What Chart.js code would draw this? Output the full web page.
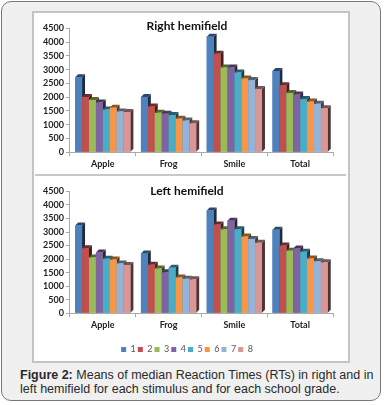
<!DOCTYPE html>
<html>
<head>
<meta charset="utf-8">
<script src="https://cdn.jsdelivr.net/npm/chart.js@4.4.1/dist/chart.umd.min.js"></script>
<style>
  body { margin: 0; background: #fff; }
  #frame { position: absolute; left: 1px; top: 1px; width: 380px; height: 400px; box-sizing: border-box;
           border: 1.5px solid #777; border-radius: 10px; background: #f0f0f0; }
  #panel { position: absolute; left: 32px; top: 11px; width: 318px; height: 352px; box-sizing: border-box;
           border: 2px solid #c4c4c4; background: #fff; }
  #divider { position: absolute; left: 35px; top: 174px; width: 311px; height: 2px; background: #c8c8c8; }
  .box { position: absolute; left: 33px; width: 316px; }
  #top { top: 12px; height: 160px; }
  #bottom { top: 177px; height: 183px; }
  #caption { position: absolute; left: 20px; top: 368px; font: 12.5px "Liberation Sans", Arial, sans-serif;
             color: #2a2a2a; line-height: 14px; white-space: nowrap; }
</style>
</head>
<body>
<div id="frame"></div>
<div id="panel"></div>
<div id="divider"></div>
<div class="box" id="top"><canvas id="rightChart"></canvas></div>
<div class="box" id="bottom"><canvas id="leftChart"></canvas></div>
<div id="caption"><b>Figure 2:</b> Means of median Reaction Times (RTs) in right and in<br>left hemifield for each stimulus and for each school grade.</div>
<script>
const stimuli = ['Apple', 'Frog', 'Smile', 'Total'];
const grades = ['1', '2', '3', '4', '5', '6', '7', '8'];
const colors = ['#4F81BD', '#C0504D', '#9BBB59', '#8064A2', '#4BACC6', '#F79646', '#95B3D7', '#D99694'];

// right hemifield, one array per grade: Apple, Frog, Smile, Total
const right1 = [2720, 2010, 4200, 2950];
const right2 = [2010, 1660, 3580, 2430];
const right3 = [1900, 1430, 3080, 2150];
const right4 = [1810, 1400, 3080, 2100];
const right5 = [1550, 1350, 2900, 1930];
const right6 = [1620, 1220, 2680, 1840];
const right7 = [1480, 1150, 2620, 1760];
const right8 = [1460, 1050, 2300, 1600];

// left hemifield
const left1 = [3240, 2210, 3790, 3080];
const left2 = [2400, 1790, 3280, 2500];
const left3 = [2060, 1650, 3100, 2310];
const left4 = [2240, 1510, 3420, 2390];
const left5 = [2010, 1680, 3100, 2270];
const left6 = [1980, 1320, 2830, 2020];
const left7 = [1840, 1270, 2740, 1920];
const left8 = [1780, 1250, 2600, 1880];

const yMax = 4500;
const yStep = 500;

function shade(hex, f) {
    const n = parseInt(hex.slice(1), 16);
    const r = Math.round(((n >> 16) & 255) * f);
    const g = Math.round(((n >> 8) & 255) * f);
    const b = Math.round((n & 255) * f);
    return 'rgb(' + r + ',' + g + ',' + b + ')';
}

// fake the excel 3d look: side + top face, then the front again
const bars3d = {
    id: 'bars3d',
    afterDatasetsDraw(chart) {
        const ctx = chart.ctx;
        const d = 3;
        chart.data.datasets.forEach((ds, i) => {
            const meta = chart.getDatasetMeta(i);
            if (meta.hidden) return;
            meta.data.forEach(bar => {
                const p = bar.getProps(['x', 'y', 'base', 'width'], true);
                const l = p.x - p.width / 2, r = p.x + p.width / 2;
                ctx.save();
                ctx.fillStyle = shade(ds.backgroundColor, 0.35);
                ctx.beginPath();
                ctx.moveTo(r, p.y); ctx.lineTo(r + d, p.y - d); ctx.lineTo(r + d, p.base - d); ctx.lineTo(r, p.base);
                ctx.closePath(); ctx.fill();
                ctx.fillStyle = shade(ds.backgroundColor, 0.55);
                ctx.beginPath();
                ctx.moveTo(l, p.y); ctx.lineTo(l + d, p.y - d); ctx.lineTo(r + d, p.y - d); ctx.lineTo(r, p.y);
                ctx.closePath(); ctx.fill();
                ctx.fillStyle = ds.backgroundColor;
                ctx.fillRect(l, p.y, p.width, p.base - p.y);
                ctx.restore();
            });
        });
    }
};

function makeChart(id, title, series, showLegend, titlePad, layoutPad) {
    return new Chart(document.getElementById(id), {
        type: 'bar',
        data: {
            labels: stimuli,
            datasets: series.map((vals, i) => ({
                label: grades[i],
                data: vals,
                backgroundColor: colors[i],
                borderWidth: 0
            }))
        },
        options: {
            responsive: true,
            maintainAspectRatio: false,
            animation: false,
            categoryPercentage: 0.84,
            barPercentage: 1,
            layout: { padding: layoutPad },
            scales: {
                x: {
                    grid: { drawOnChartArea: false, color: '#aaa', tickLength: 4 },
                    border: { color: '#aaa' },
                    ticks: { color: '#222', font: { family: 'Lato', size: 9, weight: 'bold' }, padding: 2 }
                },
                y: {
                    min: 0,
                    max: yMax,
                    grid: { drawOnChartArea: false, color: '#aaa', tickLength: 4 },
                    border: { color: '#aaa' },
                    ticks: {
                        stepSize: yStep,
                        autoSkip: false,
                        color: '#222',
                        font: { family: 'Lato', size: 9, weight: 'bold' },
                        padding: 2,
                        callback: v => String(v)
                    }
                }
            },
            plugins: {
                title: {
                    display: true,
                    text: title,
                    color: '#111',
                    font: { family: 'Lato', size: 12, weight: 'bold' },
                    padding: titlePad
                },
                legend: {
                    display: showLegend,
                    position: 'bottom',
                    title: { display: true, text: ' ', font: { size: 5 }, padding: { top: 0, bottom: 5 } },
                    labels: {
                        color: '#555',
                        font: { family: 'Lato', size: 9 },
                        boxWidth: 5,
                        boxHeight: 5,
                        padding: 2
                    }
                },
                tooltip: { enabled: false }
            }
        },
        plugins: [bars3d]
    });
}

makeChart('rightChart', 'Right hemifield',
    [right1, right2, right3, right4, right5, right6, right7, right8],
    false, { top: 7, bottom: -5 }, { left: 8, right: 16, top: 0, bottom: 1 });
makeChart('leftChart', 'Left hemifield',
    [left1, left2, left3, left4, left5, left6, left7, left8],
    true, { top: 7, bottom: -7 }, { left: 8, right: 16, top: 0, bottom: -4 });
</script>
</body>
</html>
